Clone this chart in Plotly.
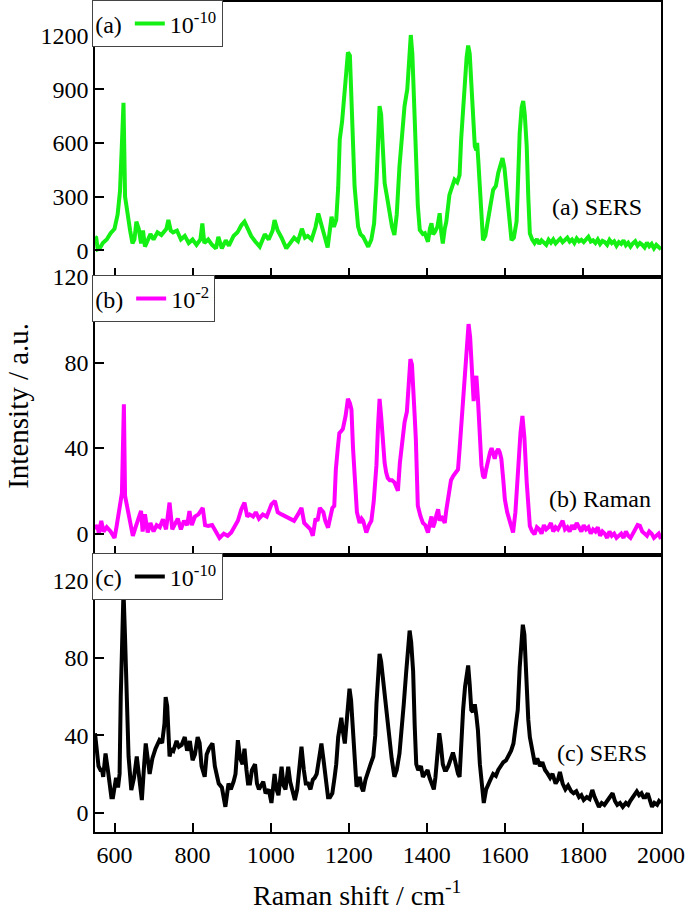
import plotly.graph_objects as go

# ---------------- data ----------------
x_a = [550,553,557,562,570,580,590,600,608,614,619,623,627,632,640,646,651,656,662,668,673,678,685,692,700,710,720,733,738,744,750,760,770,780,790,800,810,820,825,830,840,850,860,866,875,885,893,905,915,925,933,942,950,960,972,985,995,1005,1010,1018,1028,1040,1050,1060,1070,1080,1088,1095,1105,1115,1122,1130,1138,1146,1152,1156,1162,1168,1173,1177,1183,1190,1198,1203,1207,1211,1215,1224,1230,1237,1244,1250,1258,1265,1271,1276,1279,1283,1287,1292,1298,1305,1311,1317,1323,1330,1337,1343,1350,1355,1359,1363,1366,1372,1377,1382,1390,1395,1403,1408,1412,1416,1420,1427,1433,1437,1441,1446,1450,1458,1465,1471,1478,1484,1488,1493,1497,1502,1506,1510,1514,1519,1523,1527,1529,1532,1536,1540,1544,1550,1557,1563,1570,1577,1583,1590,1594,1599,1604,1610,1617,1623,1630,1634,1638,1643,1647,1651,1656,1660,
       1664,1670,1676,1682,1688,1694,1700,1706,1712,1718,1724,1730,1736,1742,1748,1754,1760,1766,1772,1778,1784,1790,1796,1802,1808,1814,1820,1826,1832,1838,1844,1850,1856,1862,1868,1874,1880,1886,1892,1898,1904,1910,1916,1922,1928,1934,1940,1946,1952,1958,1964,1970,1976,1982,1988,1994,2000]
y_a = [75,70,5,10,40,60,95,120,200,330,600,826,300,210,110,38,60,160,120,38,110,20,55,90,60,100,85,120,169,110,100,110,60,80,40,60,30,60,150,40,60,30,10,75,10,55,25,80,100,140,160,120,80,50,20,90,60,110,169,110,70,10,40,70,50,120,70,80,60,130,206,150,80,15,120,188,130,170,350,620,720,900,1108,1090,845,600,357,132,90,75,40,19,60,150,376,650,807,760,620,376,300,207,130,85,200,470,680,807,901,1050,1205,1100,900,507,250,113,90,95,47,120,150,90,100,130,207,100,38,120,160,310,360,395,380,420,620,800,939,1080,1146,1100,939,700,582,560,601,500,338,150,56,80,160,250,338,360,432,490,516,460,357,180,56,70,160,400,657,800,835,760,582,300,
       94,60,40,62,35,55,45,30,58,42,60,38,52,65,45,55,70,48,60,40,66,50,58,45,62,75,48,55,40,60,35,52,45,30,58,40,50,25,45,35,55,28,42,20,38,50,25,40,30,15,42,22,35,10,30,18,5]

x_b = [550,556,560,566,572,580,590,600,605,609,614,619,624,627,633,640,647,654,660,668,672,678,685,692,700,708,716,724,732,741,748,755,762,770,778,786,792,798,806,815,826,832,840,850,860,869,880,890,899,908,916,925,933,940,946,955,962,970,980,990,1002,1011,1018,1028,1038,1050,1060,1070,1079,1086,1094,1102,1108,1115,1120,1126,1135,1140,1147,1152,1158,1163,1167,1172,1176,1181,1185,1192,1198,1203,1207,1211,1215,1221,1228,1233,1237,1245,1252,1258,1264,1271,1275,1279,1283,1287,1292,1296,1300,1305,1311,1317,1322,1326,1331,1337,1343,1349,1354,1358,1362,1365,1369,1372,1377,1384,1390,1396,1403,1408,1412,1416,1420,1425,1429,1433,1437,1441,1446,1450,1454,1458,1462,1468,1475,1480,1484,1488,1493,1497,1501,1507,1511,1514,1517,1520,1524,1527,1531,1535,1540,1544,1548,1552,1557,1562,1566,1570,1574,1578,1583,1587,1591,1596,1600,1606,1613,1617,1621,1627,1634,1640,1645,1650,1656,1660,
       1664,1670,1676,1682,1688,1694,1700,1706,1712,1718,1724,1730,1736,1742,1748,1754,1760,1766,1772,1778,1784,1790,1796,1802,1808,1814,1820,1826,1832,1838,1844,1850,1856,1862,1868,1874,1880,1886,1892,1898,1904,1910,1916,1922,1928,1934,1940,1946,1952,1958,1964,1970,1976,1982,1988,1994,2000]
y_b = [2,4,0,6,1,3,1,-2,3,8,15,19,60.5,17.6,12,6,-1,3,7,10.6,1,9,0.5,5,1,4,3,6.7,2,14.5,2,5,7,2,6,4,10.6,4,8,9,12,4,3.6,4,1,-2,0,-1,0.5,3,6,11.4,14.5,8,9,8,10,7,9,8,13.7,15.3,10,9,8,7,6,9,12,5,3.6,2,-1,7,6,12,10,6,2.8,7.5,12,13,30,40,47,48,49,55,63,61,58,40,24,10,5,7,6,0.5,4,6,15,32,50,63,55,44,33,28.5,26,25,25,24,22,20,33,42,52,57,70,81.6,79,70.7,55,44,13,8,5,4,0.5,5,8,3,5,9,11.4,6,8,7,5,11,16,20,25,27,28.5,30,39.5,50,63,75,86,98,92,81.6,70,62,70,73.8,63,45,32,27,26,30,35,38,40,37,35,38,39.5,38,35,25,16,10,5,2,0.5,10,32,47,55,45,24,10,
       3.6,1,-0.3,3,2,0,4,2,3,5,1,3,2,4,6,2,3,1,4,2,5,3,1,4,2,3,0,2,1,3,-1,1,0,-2,1,-1,0,-2,-1,0,-2,1,-1,-2,0,2,4,3.6,1,0,-1,1,0,-2,-1,0,-2.5]

x_c = [550,553,556,559,564,568,571,577,583,588,592,596,600,604,609,613,616,619,623,627,629,633,636,643,650,657,663,670,676,680,685,690,697,705,715,722,728,731,735,738,741,746,751,759,765,772,780,786,793,800,806,813,818,823,831,836,842,851,857,863,867,875,880,884,892,898,905,910,916,922,928,933,938,942,947,952,960,965,970,976,981,987,995,1002,1010,1015,1020,1028,1033,1038,1045,1050,1055,1062,1068,1074,1079,1085,1090,1096,1102,1108,1113,1118,1124,1130,1135,1140,1147,1152,1158,1164,1168,1173,1178,1181,1185,1190,1196,1202,1206,1211,1215,1220,1224,1228,1233,1237,1243,1250,1256,1263,1268,1271,1275,1279,1283,1287,1292,1296,1300,1305,1310,1317,1323,1330,1335,1341,1347,1352,1356,1360,1365,1369,1373,1378,1385,1390,1396,1402,1407,1412,1418,1422,1427,1432,1436,1441,1446,1450,1455,1460,1467,1471,1475,1480,1484,1488,1493,1498,1502,1506,1510,1514,1518,1523,1527,1531,1536,1540,1546,1552,1557,1563,1570,1577,1583,1590,1596,1603,1609,1616,1622,1628,1633,1638,1642,1646,1650,1653,1656,1660,1664,1670,1677,1683,1690,1696,1703,1710,1716,1722,1730,1736,1741,1748,1755,1762,1770,1776,1783,1790,1796,1802,1810,1817,1824,1830,1836,1841,1848,1855,1862,1870,1876,1882,1888,1895,1902,1910,1916,1921,1928,1934,1938,1944,1950,1955,1960,1966,1971,1977,1983,1990,1995,2000]
y_c = [41,35,29,24,22,22,18.5,30.5,22,12,8,8,14,18,13,20,60,90,114.6,90,73,40,29,11.7,18,29,18,6.5,25,35.7,28,20,28,33,37.4,36,46,59.7,55,45,29,33,32,37,34,35,39,32,37,27,30,39,36,24,18.5,30,33,35.7,24,18.5,15,13,8,3,15,12,16,20,37.4,28,25,33,22,15,15,22,25,15,12,14,16,10,12,5,20,12,9,23.7,14,12,23.7,16,12,6.5,12,22,34,22,15,15,12,17,18,20,28,35.7,28,18,8,8,10,18.5,25,39,48,49,42,35.7,50,64,58,42.5,25,13.4,15,18.5,13,11,17,22,25,29,40,56,70,82,78,70,60,51,43,35.7,28,18.5,22,30.5,40,56,72,85,94,88,73,45,25,22,24,18.5,20,22,18,15,12,18,30,41,35,25,22,22,24,27,31,28,24,20,18.5,35,53,65,72,76,66,53,52,56,50,42.5,25,15,5,12,15,17,20,19,22,24,26,27,29,32,35.7,45,53,75,90,97,92,75,60,48,39,32,25,28,24,26,22,20,18,20,15,17,21,15,12,14,11,10,11,8,9,6.5,8,7,11.7,8,5,3,5,4,6,8,10,6,4,5,3,5,4,6,8,9,11,9,10,8,8,10,6,3,5,4,6,5]

series_names = ["10<sup>-10</sup>", "10<sup>-2</sup>", "10<sup>-10</sup>"]
panel_tags = ["(a)", "(b)", "(c)"]
panel_labels = ["(a) SERS", "(b) Raman", "(c) SERS"]
x_ticks = [600, 800, 1000, 1200, 1400, 1600, 1800, 2000]
y_ticks_a = [0, 300, 600, 900, 1200]
y_ticks_b = [0, 40, 80, 120]
y_ticks_c = [0, 40, 80, 120]

# ---------------- figure ----------------
FONT = "Liberation Serif"
colors = ["#14F014", "#FF00FF", "#000000"]
dom = [[0.6687, 1.0], [0.3337, 0.6687], [0.0, 0.3337]]

fig = go.Figure()
xs = [x_a, x_b, x_c]
ys = [y_a, y_b, y_c]
for i in range(3):
    fig.add_trace(go.Scatter(
        x=xs[i], y=ys[i], mode="lines", name=series_names[i],
        line=dict(color=colors[i], width=4),
        xaxis="x" if i == 0 else f"x{i+1}",
        yaxis="y" if i == 0 else f"y{i+1}",
        legend="legend" if i == 0 else f"legend{i+1}",
        showlegend=True,
    ))

axis_common = dict(showline=True, linecolor="black", linewidth=1.5, mirror=True,
                   ticks="inside", ticklen=9, tickwidth=1.5, tickcolor="black",
                   showgrid=False, zeroline=False,
                   tickfont=dict(family=FONT, size=24, color="black"))

yranges = [[-150, 1390], [-10, 120], [-10, 133]]
yticks = [y_ticks_a, y_ticks_b, y_ticks_c]
layout = dict(
    width=685, height=913, autosize=False,
    margin=dict(l=95, r=24, t=2, b=81, autoexpand=False),
    paper_bgcolor="white", plot_bgcolor="white",
    font=dict(family=FONT, color="black"),
)
for i in range(3):
    xk = "xaxis" if i == 0 else f"xaxis{i+1}"
    yk = "yaxis" if i == 0 else f"yaxis{i+1}"
    ya = "y" if i == 0 else f"y{i+1}"
    xa = "x" if i == 0 else f"x{i+1}"
    layout[xk] = dict(axis_common, range=[550, 2000], tickvals=x_ticks,
                      anchor=ya, domain=[0, 1],
                      showticklabels=(i == 2))
    layout[yk] = dict(axis_common, range=yranges[i], tickvals=yticks[i],
                      anchor=xa, domain=dom[i])
    lk = "legend" if i == 0 else f"legend{i+1}"
    layout[lk] = dict(x=-0.005, xanchor="left", y=dom[i][1] + 0.002, yanchor="top",
                      xref="paper", yref="paper",
                      bgcolor="white", bordercolor="#444", borderwidth=1,
                      font=dict(family=FONT, size=24, color="black"),
                      title=dict(text=panel_tags[i], side="left",
                                 font=dict(family=FONT, size=24, color="black")),
                      itemwidth=30, tracegroupgap=0)
fig.update_layout(**layout)

ann_pos = [(1836, 242), (1844, 16), (1849, 31)]
for i in range(3):
    fig.add_annotation(x=ann_pos[i][0], y=ann_pos[i][1],
                       xref="x" if i == 0 else f"x{i+1}",
                       yref="y" if i == 0 else f"y{i+1}",
                       text=panel_labels[i], showarrow=False,
                       xanchor="center", yanchor="middle",
                       font=dict(family=FONT, size=24, color="black"))

fig.add_annotation(text="Intensity / a.u.", textangle=-90, showarrow=False,
                   xref="paper", yref="paper", x=-0.135, y=0.513,
                   xanchor="center", yanchor="middle",
                   font=dict(family=FONT, size=29, color="black"))
fig.add_annotation(text="Raman shift / cm<sup>-1</sup>", showarrow=False,
                   xref="paper", yref="paper", x=0.463, y=-0.074,
                   xanchor="center", yanchor="middle",
                   font=dict(family=FONT, size=28, color="black"))

fig.write_html("out.html", config={"displayModeBar": False},
               post_script="document.body.style.margin='0px';")
